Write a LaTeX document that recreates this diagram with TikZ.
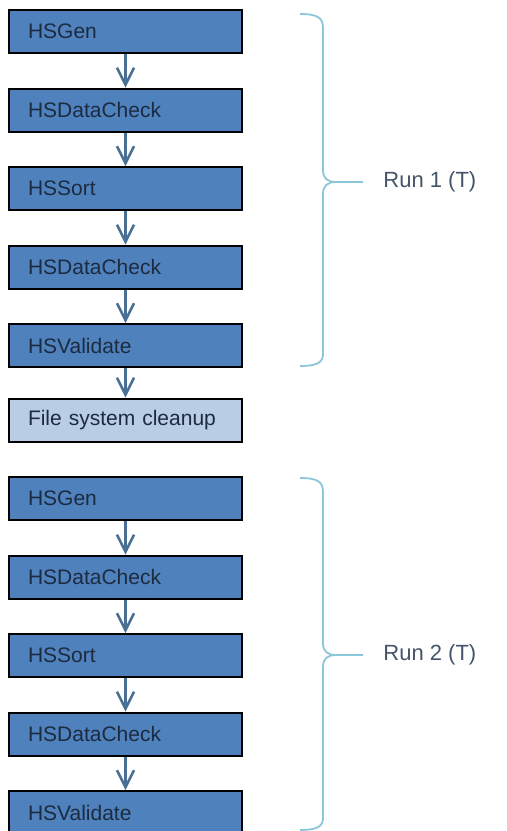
\documentclass[tikz,border=0pt]{standalone}
\usepackage{fontspec}
\setmainfont{Liberation Sans}
\usetikzlibrary{arrows.meta,positioning}

\definecolor{stepblue}{HTML}{4F81BD}
\definecolor{cleanblue}{HTML}{B9CDE5}
\definecolor{steptext}{HTML}{1C2B40}
\definecolor{flowblue}{HTML}{4A6F94}
\definecolor{bracecyan}{HTML}{8CC6DB}
\definecolor{runtext}{HTML}{44546A}

\tikzset{
	stepbox/.style={draw=black, line width=1pt, fill=stepblue, text=steptext,
		minimum width=116.5pt, minimum height=21.5pt, inner xsep=9.5pt,
		text width=97.5pt, align=left, font=\fontsize{10.5}{12}\selectfont},
	cleanbox/.style={stepbox, fill=cleanblue},
	flow/.style={draw=flowblue, line width=1.25pt, -{Straight Barb[length=8.5pt, width=8.5pt]}},
	runbrace/.style={draw=bracecyan, line width=0.9pt},
	runlabel/.style={anchor=west, inner xsep=10pt, text=runtext, font=\fontsize{11}{13}\selectfont}
}

\begin{document}
\begin{tikzpicture}[x=0.5pt, y=-0.5pt]

	\useasboundingbox (0,0) rectangle (507,831);

	% first run
	\node (gen-1) [stepbox] at (125.5,31.5) {HSGen};
	\node (datacheck-1a) [stepbox] at (125.5,110) {HSDataCheck};
	\node (sort-1) [stepbox] at (125.5,188.5) {HSSort};
	\node (datacheck-1b) [stepbox] at (125.5,267) {HSDataCheck};
	\node (validate-1) [stepbox] at (125.5,345.5) {HSValidate};

	\node (cleanup) [cleanbox] at (125.5,420) {File system cleanup};

	% second run
	\node (gen-2) [stepbox] at (125.5,498.5) {HSGen};
	\node (datacheck-2a) [stepbox] at (125.5,577) {HSDataCheck};
	\node (sort-2) [stepbox] at (125.5,655.5) {HSSort};
	\node (datacheck-2b) [stepbox] at (125.5,734) {HSDataCheck};
	\node (validate-2) [stepbox] at (125.5,812.5) {HSValidate};

	\draw[flow] (gen-1) to (datacheck-1a);
	\draw[flow] (datacheck-1a) to (sort-1);
	\draw[flow] (sort-1) to (datacheck-1b);
	\draw[flow] (datacheck-1b) to (validate-1);
	\draw[flow] (validate-1) to (cleanup);
	\draw[flow] (gen-2) to (datacheck-2a);
	\draw[flow] (datacheck-2a) to (sort-2);
	\draw[flow] (sort-2) to (datacheck-2b);
	\draw[flow] (datacheck-2b) to (validate-2);

	% braces
	\draw[runbrace] (300,14) .. controls (318,14) and (323,18) .. (323,28) -- (323,170)
		.. controls (323,178) and (327,182) .. (336,182)
		.. controls (327,182) and (323,186) .. (323,194) -- (323,354)
		.. controls (323,362) and (318,366) .. (300,366);
	\coordinate (brace-1-tip) at (336,182);
	\node (run-1) [runlabel] at (363,182) {Run 1 (T)};
	\draw[runbrace] (brace-1-tip) to (run-1.west);

	\draw[runbrace] (300,478) .. controls (318,478) and (323,482) .. (323,492) -- (323,643)
		.. controls (323,651) and (327,655) .. (336,655)
		.. controls (327,655) and (323,659) .. (323,667) -- (323,818)
		.. controls (323,826) and (318,830) .. (300,830);
	\coordinate (brace-2-tip) at (336,655);
	\node (run-2) [runlabel] at (363,655) {Run 2 (T)};
	\draw[runbrace] (brace-2-tip) to (run-2.west);

\end{tikzpicture}
\end{document}
